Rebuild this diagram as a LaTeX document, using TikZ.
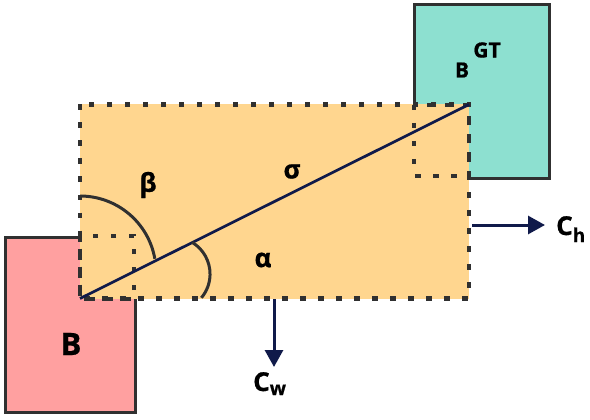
\documentclass[tikz,border=0pt]{standalone}
\usepackage{fontspec}
\setmainfont{Open Sans}[BoldFeatures={FakeBold=0.8}]
\usetikzlibrary{arrows.meta}
\definecolor{redfill}{HTML}{FFA0A0}
\definecolor{tealfill}{HTML}{8DE0D0}
\definecolor{orfill}{HTML}{FFD68F}
\definecolor{edgegray}{HTML}{303030}
\definecolor{navy}{HTML}{101A4A}
\begin{document}
\begin{tikzpicture}[x=1pt,y=-1pt,
  boxshape/.style={draw=edgegray, line width=3pt, inner sep=0pt, outer sep=0pt},
  dotline/.style={draw=edgegray, line width=4.5pt, dash pattern=on 5.5pt off 12.5pt},
  lbl/.style={font=\bfseries\fontsize{26}{26}\selectfont, inner sep=0pt},
  arrowline/.style={draw=navy, line width=3pt, -{Triangle[length=17pt,width=18pt]}},
  anglearc/.style={draw=edgegray, line width=3pt}]
\useasboundingbox (0,0) rectangle (590,420);
% boxes
\node[boxshape, fill=redfill, minimum width=130pt, minimum height=175pt] (B) at (70,324.5) {};
\node[boxshape, fill=tealfill, minimum width=135pt, minimum height=173pt] (BGT) at (482,91.5) {};
\node[fill=orfill, inner sep=0pt, outer sep=0pt, minimum width=389pt, minimum height=194pt] (R) at (274.5,201.5) {};
% dotted borders
\draw[dotline] (R.north west) rectangle (R.south east);
\coordinate (s1a) at (80,236);
\coordinate (s1b) at (134,299);
\coordinate (s2a) at (414,105);
\coordinate (s2b) at (469,176);
\draw[dotline] (s1a) rectangle (s1b);
\draw[dotline] (s2a) rectangle (s2b);
% diagonal
\draw[navy, line width=2.7pt] (R.south west) -- (R.north east);
% angle arcs
\coordinate (betastart) at (80,196);
\coordinate (alphastart) at (192.1,242.3);
\draw[anglearc] (betastart) arc[start angle=-90, end angle=-10, radius=76];
\draw[anglearc] (alphastart) arc[start angle=-59, end angle=40, radius=37];
% labels
\node[lbl, font=\bfseries\fontsize{31}{31}\selectfont] (lB) at (71,344) {B};
\node[lbl, font=\bfseries\fontsize{21}{21}\selectfont] (lB2) at (462,70) {B};
\node[lbl, font=\bfseries\fontsize{21}{21}\selectfont] (lGT) at (487,50) {GT};
\node[lbl] (beta) at (148,185) {β};
\node[lbl] (sigma) at (292,171.5) {σ};
\node[lbl] (alpha) at (263,260) {α};
\node[lbl, font=\bfseries\fontsize{26}{26}\selectfont, anchor=base west] (ch) at (556,235) {C\raisebox{-7pt}{\fontsize{19}{19}\selectfont h}};
\node[lbl, font=\bfseries\fontsize{26}{26}\selectfont, anchor=base west] (cw) at (253,391) {C\raisebox{-4pt}{\fontsize{19}{19}\selectfont w}};
% arrows
\coordinate (ch0) at (472,225);
\coordinate (ch1) at (545,225);
\coordinate (cw0) at (274,299);
\coordinate (cw1) at (274,367);
\draw[arrowline] (ch0) -- (ch1);
\draw[arrowline] (cw0) -- (cw1);
\end{tikzpicture}
\end{document}
